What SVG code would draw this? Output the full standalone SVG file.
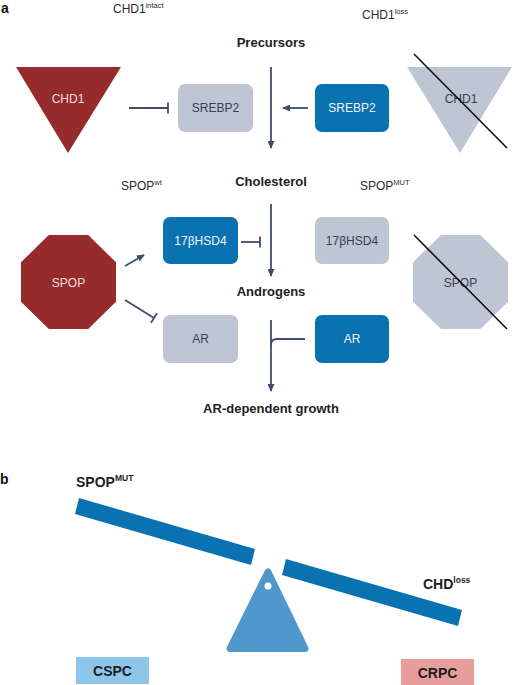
<svg xmlns="http://www.w3.org/2000/svg" width="513" height="685" viewBox="0 0 513 685">
<style>
text{font-family:"Liberation Sans",Arial,sans-serif}
.lbl{font-size:12px;fill:#2b2b2b}
.sup{font-size:7.5px}
.bold{font-size:13px;font-weight:bold;fill:#222}
.bb{font-size:14px;font-weight:bold;fill:#1e1e1e}
.panel{font-size:14px;font-weight:bold;fill:#111}
.box-g{fill:#bec5d3}
.box-b{fill:#0a72b1}
.red{fill:#952b2b}
.grey{fill:#bec5d3}
.tw{font-size:12px;fill:#f2f4f8;text-anchor:middle}
.td{font-size:12px;fill:#3a3f4f;text-anchor:middle}
.tr{font-size:12px;fill:#f1dede;text-anchor:middle}
.ln{stroke:#3f4c6b;stroke-width:1.8;fill:none}
.strike{stroke:#111;stroke-width:1.6}
</style>
<defs>
<marker id="ah" markerWidth="8" markerHeight="7" refX="7" refY="3.5" orient="auto" markerUnits="userSpaceOnUse">
<path d="M0,0 L8,3.5 L0,7 z" fill="#3f4c6b"/>
</marker>
</defs>

<text class="panel" x="1" y="13">a</text>
<text class="lbl" x="113" y="13">CHD1<tspan class="sup" dy="-5">intact</tspan></text>
<text class="lbl" x="362" y="19">CHD1<tspan class="sup" dy="-5">loss</tspan></text>
<text class="bold" x="271" y="47" text-anchor="middle">Precursors</text>
<text class="bold" x="271" y="186" text-anchor="middle">Cholesterol</text>
<text class="lbl" x="121" y="190">SPOP<tspan class="sup" dy="-5">wt</tspan></text>
<text class="lbl" x="360" y="190">SPOP<tspan class="sup" dy="-5">MUT</tspan></text>
<text class="bold" x="271" y="296" text-anchor="middle">Androgens</text>
<text class="bold" x="271" y="413" text-anchor="middle">AR-dependent growth</text>

<g id="chd1-intact">
<polygon class="red" points="16,67 121,67 68,153"/>
<text class="tr" x="68" y="103">CHD1</text>
</g>
<g id="chd1-loss">
<polygon class="grey" points="407,67 512,67 460,153"/>
<text class="td" x="461" y="103">CHD1</text>
<line class="strike" x1="414" y1="54" x2="507" y2="148"/>
</g>
<g id="srebp2-grey">
<rect class="box-g" x="178" y="84" width="75" height="48" rx="7"/>
<text class="td" x="215.5" y="112">SREBP2</text>
</g>
<g id="srebp2-blue">
<rect class="box-b" x="315" y="84" width="74" height="48" rx="7"/>
<text class="tw" x="352" y="112">SREBP2</text>
</g>
<g id="spop-wt">
<polygon class="red" points="48.8,235 88.2,235 116,262.3 116,301.7 88.2,329 48.8,329 21,301.7 21,262.3"/>
<text class="tr" x="68.5" y="287">SPOP</text>
</g>
<g id="spop-mut">
<polygon class="grey" points="441,235 480.4,235 508,262.3 508,301.7 480.4,329 441,329 413,301.7 413,262.3"/>
<text class="td" x="460.5" y="287">SPOP</text>
<line class="strike" x1="414" y1="235" x2="507" y2="329"/>
</g>
<g id="hsd4-blue">
<rect class="box-b" x="163" y="217" width="75" height="47" rx="7"/>
<text class="tw" x="200.5" y="245">17βHSD4</text>
</g>
<g id="hsd4-grey">
<rect class="box-g" x="315" y="217" width="74" height="47" rx="7"/>
<text class="td" x="352" y="245">17βHSD4</text>
</g>
<g id="ar-grey">
<rect class="box-g" x="163" y="315" width="75" height="48" rx="7"/>
<text class="td" x="200.5" y="343">AR</text>
</g>
<g id="ar-blue">
<rect class="box-b" x="315" y="315" width="74" height="48" rx="7"/>
<text class="tw" x="352" y="343">AR</text>
</g>

<g id="connectors">
<line class="ln" x1="271" y1="67" x2="271" y2="148" marker-end="url(#ah)"/>
<line class="ln" x1="308" y1="108" x2="283" y2="108" marker-end="url(#ah)"/>
<line class="ln" x1="129" y1="108" x2="168" y2="108"/>
<line class="ln" x1="168" y1="102.5" x2="168" y2="113.5"/>
<line class="ln" x1="271" y1="204" x2="271" y2="276" marker-end="url(#ah)"/>
<line class="ln" x1="241" y1="242" x2="260" y2="242"/>
<line class="ln" x1="260" y1="236.5" x2="260" y2="247.5"/>
<line class="ln" x1="125" y1="266" x2="144" y2="255" marker-end="url(#ah)"/>
<line class="ln" x1="125" y1="300" x2="154" y2="318"/>
<line class="ln" x1="151" y1="322.7" x2="157" y2="313.3"/>
<line class="ln" x1="271" y1="320" x2="271" y2="391" marker-end="url(#ah)"/>
<path class="ln" d="M305,339 H277 Q271,339 271,345"/>
</g>

<text class="panel" x="0" y="484">b</text>
<text class="bb" x="76" y="487">SPOP<tspan font-size="8.5px" dy="-6">MUT</tspan></text>
<text class="bb" x="423" y="589">CHD<tspan font-size="8.5px" dy="-6">loss</tspan></text>
<g id="seesaw">
<polygon fill="#0a72b1" points="79,498 255,549 251,565 75,514"/>
<polygon fill="#0a72b1" points="286,559 462,610 458,626 282,575"/>
<polygon fill="#4f98cc" stroke="#4f98cc" stroke-width="7" stroke-linejoin="round" points="268,572 230,648.5 305,648.5"/>
<circle cx="268" cy="586" r="3.5" fill="#fff"/>
</g>
<g id="cspc">
<rect x="76" y="657" width="73" height="27" fill="#8ec5ea"/>
<text class="bb" x="112.5" y="676" text-anchor="middle">CSPC</text>
</g>
<g id="crpc">
<rect x="401" y="659" width="73" height="27" fill="#e89d9d"/>
<text class="bb" x="437.5" y="678" text-anchor="middle">CRPC</text>
</g>
</svg>
